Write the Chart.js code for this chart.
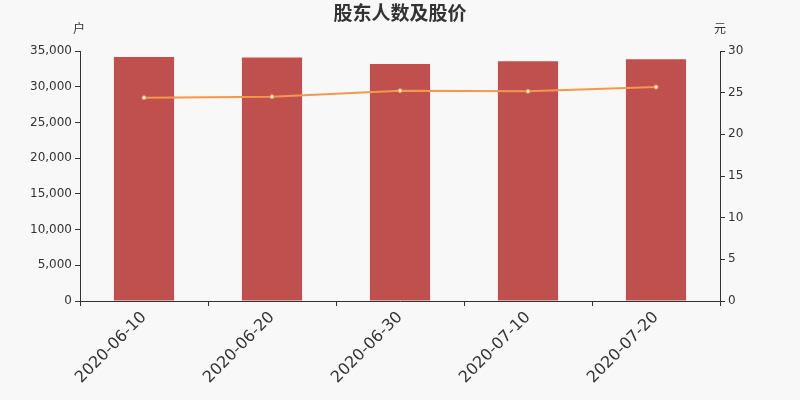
<!DOCTYPE html>
<html>
<head>
<meta charset="utf-8">
<script src="https://cdn.jsdelivr.net/npm/chart.js@4/dist/chart.umd.min.js"></script>
<style>
html,body{margin:0;padding:0;background:#f8f8f8;}
#wrap{width:800px;height:400px;}
</style>
</head>
<body>
<div id="wrap"><canvas id="c" width="800" height="400"></canvas></div>
<script>
const categories = ["2020-06-10","2020-06-20","2020-06-30","2020-07-10","2020-07-20"];
const holders = [34160, 34100, 33180, 33560, 33840];
const prices = [24.40, 24.52, 25.24, 25.16, 25.68];
const leftTicks = [0,5000,10000,15000,20000,25000,30000,35000];
const rightTicks = [0,5,10,15,20,25,30];
const titleText = "股东人数及股价";
const leftUnit = "户";
const rightUnit = "元";

const FONT = "'DejaVu Sans', sans-serif";
const CJK = "'Noto Sans CJK SC', sans-serif";

const extras = {
  id: 'extras',
  beforeDraw(chart) {
    const ctx = chart.ctx;
    ctx.save();
    ctx.fillStyle = '#f8f8f8';
    ctx.fillRect(0, 0, chart.width, chart.height);
    ctx.restore();
  },
  afterDraw(chart) {
    const ctx = chart.ctx;
    const a = chart.chartArea;
    ctx.save();
    ctx.fillStyle = '#333';
    ctx.textAlign = 'center';
    ctx.textBaseline = 'middle';
    ctx.font = "bold 19px " + CJK;
    ctx.fillText(titleText, chart.width / 2, 13);
    ctx.font = "12px " + CJK;
    ctx.fillText(leftUnit, a.left - 1, 28);
    ctx.fillText(rightUnit, a.right, 28);
    ctx.restore();
  }
};

new Chart(document.getElementById('c'), {
  type: 'bar',
  data: {
    labels: categories,
    datasets: [
      {
        type: 'line',
        data: prices,
        yAxisID: 'y1',
        borderColor: '#f4984a',
        borderWidth: 2,
        pointRadius: 2,
        pointBackgroundColor: '#ffffff',
        pointBorderColor: '#f4984a',
        pointBorderWidth: 1,
        tension: 0,
        order: 0
      },
      {
        type: 'bar',
        data: holders,
        yAxisID: 'y',
        backgroundColor: '#c0504e',
        barPercentage: 0.47,
        categoryPercentage: 1,
        order: 1
      }
    ]
  },
  options: {
    responsive: false,
    animation: false,
    layout: { padding: { top: 51, left: 0, right: 0, bottom: 0 } },
    plugins: { legend: { display: false }, tooltip: { enabled: false }, title: { display: false } },
    scales: {
      x: {
        offset: true,
        grid: { offset: true, drawOnChartArea: false, drawTicks: true, tickLength: 5, color: '#333' },
        border: { color: '#333', width: 1 },
        ticks: { color: '#333', font: { family: FONT, size: 16 }, minRotation: 45, maxRotation: 45, padding: 2 },
        afterFit(s) { s.height = 99; }
      },
      y: {
        position: 'left',
        min: 0, max: 35000,
        afterBuildTicks(s) { s.ticks = leftTicks.map(v => ({ value: v })); },
        grid: { drawOnChartArea: false, drawTicks: true, tickLength: 5, color: '#333' },
        border: { color: '#333', width: 1 },
        ticks: { color: '#333', font: { family: FONT, size: 12 }, padding: 3,
          callback: v => v.toLocaleString('en-US') },
        afterFit(s) { s.width = 80; }
      },
      y1: {
        position: 'right',
        min: 0, max: 30,
        afterBuildTicks(s) { s.ticks = rightTicks.map(v => ({ value: v })); },
        grid: { drawOnChartArea: false, drawTicks: true, tickLength: 5, color: '#333' },
        border: { color: '#333', width: 1 },
        ticks: { color: '#333', font: { family: FONT, size: 12 }, padding: 3 },
        afterFit(s) { s.width = 80; }
      }
    }
  },
  plugins: [extras]
});
</script>
</body>
</html>
